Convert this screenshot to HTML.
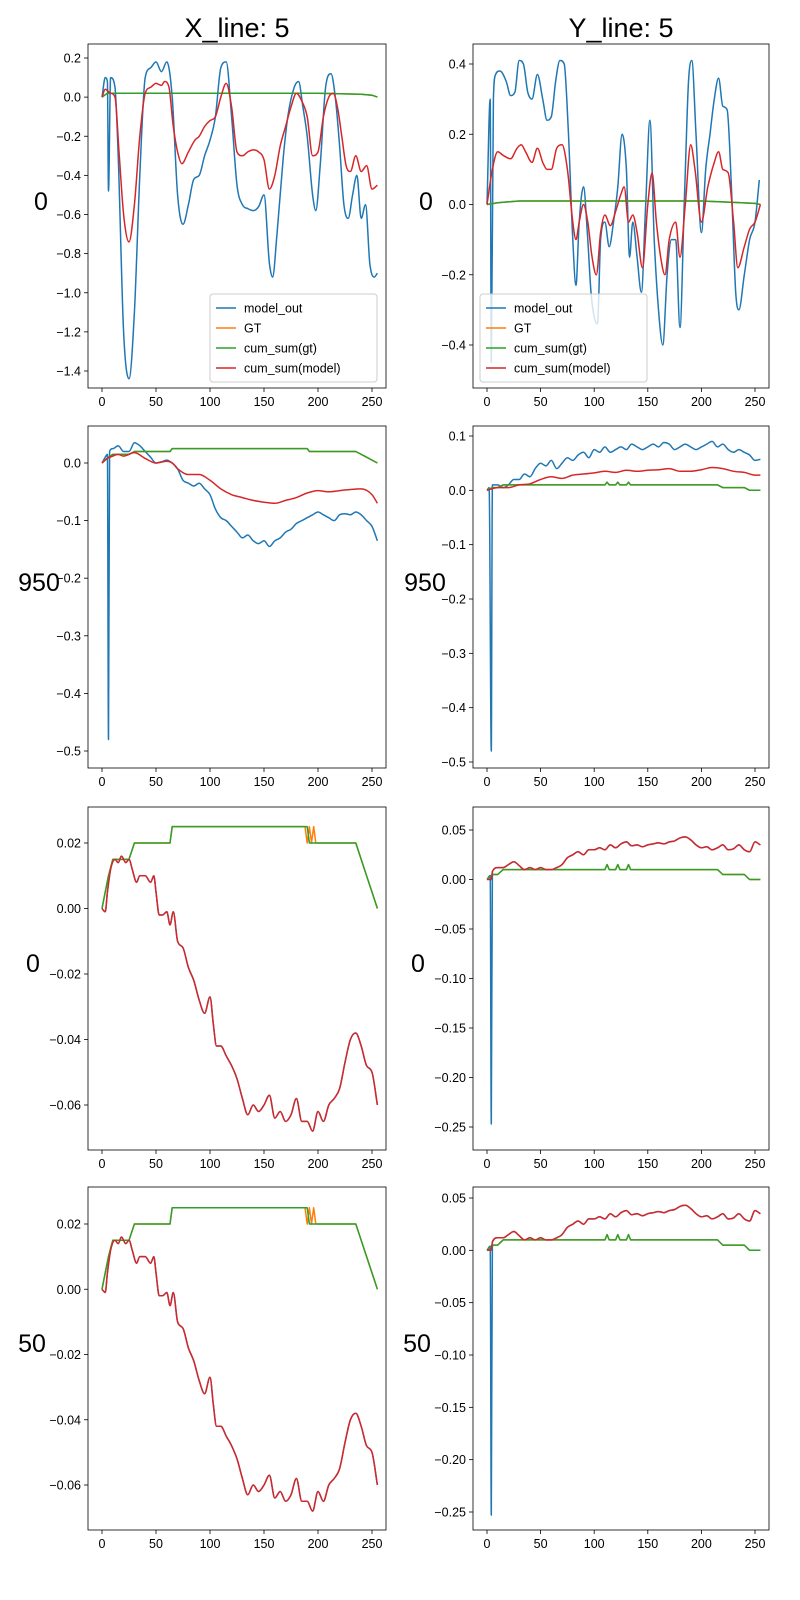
<!DOCTYPE html>
<html><head><meta charset="utf-8">
<style>
body{margin:0;background:#fff;}
svg{display:block;font-family:"Liberation Sans","DejaVu Sans",sans-serif;}
</style></head>
<body>
<svg id="fig" width="800" height="1600" viewBox="0 0 800 1600">
<text x="237" y="37" font-size="27" text-anchor="middle">X_line: 5</text>
<text x="621" y="37" font-size="27" text-anchor="middle">Y_line: 5</text>
<text x="41" y="210" font-size="25" text-anchor="middle">0</text>
<text x="426" y="210" font-size="25" text-anchor="middle">0</text>
<text x="39" y="591" font-size="25" text-anchor="middle">950</text>
<text x="425" y="591" font-size="25" text-anchor="middle">950</text>
<text x="33" y="972" font-size="25" text-anchor="middle">0</text>
<text x="418" y="972" font-size="25" text-anchor="middle">0</text>
<text x="32" y="1352" font-size="25" text-anchor="middle">50</text>
<text x="417" y="1352" font-size="25" text-anchor="middle">50</text>
</svg>
<script>
// ---- data ----
const xTicks = [0,50,100,150,200,250];
// Row1 left
const r1lBlueX = [0,3,5,6,8,12,15,20,25,30,35,40,45,50,55,60,65,70,75,80,85,90,95,100,105,110,115,120,125,130,135,140,145,150,155,158,162,168,172,178,182,186,190,195,198,202,207,212,216,220,224,228,232,236,240,244,248,252,255];
const r1lBlueY = [0,0.1,0.08,-0.48,0.1,0.05,-0.3,-1.2,-1.44,-1.1,-0.4,0.1,0.15,0.18,0.13,0.18,0,-0.5,-0.65,-0.55,-0.42,-0.4,-0.3,-0.22,-0.1,0.15,0.18,-0.1,-0.45,-0.55,-0.57,-0.58,-0.56,-0.5,-0.85,-0.92,-0.7,-0.3,-0.1,0.05,0.08,-0.05,-0.2,-0.5,-0.58,-0.35,0.05,0.12,0,-0.25,-0.55,-0.62,-0.5,-0.4,-0.62,-0.55,-0.85,-0.92,-0.9];
const r1lRedX = [0,3,8,12,16,20,25,30,35,40,45,50,55,58,62,66,70,74,80,86,90,95,100,105,110,115,120,125,130,135,140,145,150,155,160,165,170,175,180,185,190,195,200,205,210,214,218,222,226,230,235,240,245,250,255];
const r1lRedY = [0,0.04,0.02,0,-0.3,-0.6,-0.74,-0.55,-0.2,0.02,0.05,0.07,0.06,0.08,0.05,-0.15,-0.28,-0.34,-0.28,-0.22,-0.2,-0.15,-0.12,-0.1,0,0.07,-0.05,-0.28,-0.3,-0.28,-0.27,-0.28,-0.32,-0.47,-0.4,-0.25,-0.15,-0.05,0.02,-0.02,-0.1,-0.3,-0.28,-0.1,0,0.02,-0.05,-0.2,-0.35,-0.38,-0.3,-0.38,-0.35,-0.47,-0.45];
const r1lGreenX = [0,5,30,200,240,250,255];
const r1lGreenY = [0,0.02,0.02,0.02,0.015,0.01,0];
// Row1 right
const r1rBlueX = [0,3,4,6,8,12,18,22,26,30,34,38,42,47,52,56,60,64,68,72,76,80,83,86,90,94,97,100,103,106,110,114,118,122,126,130,133,136,140,144,148,152,156,160,164,168,172,176,180,184,188,191,195,200,204,208,212,216,220,224,228,232,235,240,245,250,254];
const r1rBlueY = [0,0.3,-0.45,0.3,0.37,0.38,0.35,0.31,0.32,0.41,0.4,0.32,0.3,0.37,0.3,0.24,0.25,0.35,0.41,0.4,0.2,-0.1,-0.23,-0.05,0.05,-0.1,-0.25,-0.32,-0.34,-0.1,-0.05,-0.12,-0.05,0.05,0.2,0.1,-0.15,-0.05,-0.15,-0.25,0,0.24,-0.1,-0.3,-0.4,-0.2,-0.1,-0.1,-0.35,0,0.35,0.41,0.2,-0.08,0.1,0.2,0.3,0.36,0.28,0.27,0.05,-0.25,-0.3,-0.2,-0.1,-0.05,0.07];
const r1rRedX = [0,5,10,15,22,28,32,36,42,47,52,56,60,65,70,75,80,83,86,90,94,98,102,106,110,115,120,125,128,132,136,140,145,150,154,158,162,166,170,176,180,185,190,194,200,206,212,216,220,225,230,234,240,245,250,255];
const r1rRedY = [0,0.1,0.15,0.14,0.13,0.16,0.17,0.15,0.12,0.16,0.12,0.1,0.1,0.16,0.17,0.1,-0.05,-0.1,-0.05,0,-0.05,-0.15,-0.2,-0.08,-0.03,-0.06,-0.02,0.03,0.05,-0.05,-0.03,-0.08,-0.18,0,0.09,-0.05,-0.15,-0.2,-0.1,-0.05,-0.15,0,0.17,0.1,-0.05,0.05,0.12,0.15,0.1,0.09,-0.05,-0.18,-0.12,-0.07,-0.05,0];
const r1rGreenX = [0,10,30,200,230,250,255];
const r1rGreenY = [0,0.005,0.01,0.01,0.006,0.003,0];
// Step-shaped GT (left col rows 2-4)
const stepX = [0,3,6,10,14,25,30,63,65,190,192,235,240,245,250,255];
const stepY = [0,0.005,0.01,0.015,0.015,0.015,0.02,0.02,0.025,0.025,0.02,0.02,0.015,0.01,0.005,0];
const stepOrX = [0,3,6,10,14,25,30,63,65,188,190,192,194,196,198,235,240,245,250,255];
const stepOrY = [0,0.005,0.01,0.015,0.015,0.015,0.02,0.02,0.025,0.025,0.02,0.025,0.02,0.025,0.02,0.02,0.015,0.01,0.005,0];
// GT for right col rows 2-4
const gtRX = [0,5,10,15,110,112,114,120,122,124,130,132,134,140,215,220,240,245,255];
const gtRY = [0,0.005,0.005,0.01,0.01,0.015,0.01,0.01,0.015,0.01,0.01,0.015,0.01,0.01,0.01,0.005,0.005,0,0];
// Row2 left
const r2lBlueX = [0,3,5,6,7,10,15,20,25,30,35,40,45,50,55,60,65,70,75,80,85,90,95,100,105,110,115,120,125,130,135,140,145,150,155,160,165,170,175,180,185,190,195,200,205,210,215,220,225,230,235,240,245,250,255];
const r2lBlueY = [0,0.01,0.015,-0.48,0.02,0.025,0.03,0.02,0.02,0.035,0.03,0.02,0.01,0,0.002,0.005,0,-0.01,-0.03,-0.035,-0.04,-0.035,-0.045,-0.055,-0.08,-0.095,-0.1,-0.11,-0.12,-0.13,-0.125,-0.135,-0.14,-0.135,-0.145,-0.135,-0.13,-0.12,-0.115,-0.105,-0.1,-0.095,-0.09,-0.085,-0.09,-0.095,-0.1,-0.09,-0.088,-0.09,-0.085,-0.09,-0.1,-0.11,-0.135];
const r2lRedX = [0,5,10,15,20,30,40,50,60,65,70,80,90,100,110,120,130,140,150,160,170,180,190,200,210,220,230,240,250,255];
const r2lRedY = [0,0.008,0.012,0.015,0.012,0.018,0.008,0,0.003,0,-0.01,-0.02,-0.02,-0.03,-0.045,-0.055,-0.06,-0.065,-0.068,-0.07,-0.065,-0.06,-0.052,-0.048,-0.05,-0.048,-0.046,-0.045,-0.055,-0.07];
// Row2 right
const r2rBlueX = [0,2,4,5,10,15,20,25,30,35,40,45,50,55,60,65,70,75,80,85,90,95,100,105,110,115,120,125,130,135,140,145,150,155,160,165,170,175,180,185,190,195,200,205,210,215,220,225,230,235,240,245,250,255];
const r2rBlueY = [0,0.005,-0.48,0.01,0.01,0.005,0.01,0.02,0.02,0.03,0.025,0.04,0.05,0.045,0.055,0.04,0.05,0.06,0.055,0.065,0.07,0.06,0.075,0.07,0.08,0.07,0.075,0.08,0.075,0.085,0.08,0.075,0.08,0.085,0.08,0.088,0.085,0.075,0.08,0.085,0.08,0.075,0.08,0.085,0.09,0.08,0.085,0.075,0.07,0.075,0.07,0.065,0.055,0.057];
const r2rRedX = [0,10,20,30,40,50,60,70,80,90,100,110,120,130,140,150,160,170,180,190,200,210,220,230,240,250,255];
const r2rRedY = [0,0.005,0.005,0.01,0.012,0.02,0.025,0.022,0.028,0.03,0.032,0.035,0.033,0.037,0.035,0.037,0.038,0.04,0.035,0.035,0.038,0.042,0.04,0.035,0.033,0.028,0.028];
// Row3/4 left
const r3lX = [0,3,5,8,12,15,18,22,25,28,32,35,40,45,48,50,53,56,60,63,66,70,75,80,85,90,95,100,103,106,110,115,120,125,130,135,140,145,150,155,160,165,170,175,180,185,190,195,200,205,210,215,220,225,230,235,240,245,250,255];
const r3lY = [0,-0.001,0.005,0.012,0.015,0.014,0.016,0.014,0.015,0.012,0.008,0.01,0.01,0.008,0.01,0.005,-0.002,-0.002,-0.001,-0.005,-0.001,-0.01,-0.012,-0.018,-0.022,-0.028,-0.032,-0.027,-0.035,-0.042,-0.042,-0.045,-0.048,-0.052,-0.058,-0.063,-0.06,-0.062,-0.06,-0.057,-0.064,-0.062,-0.065,-0.063,-0.058,-0.065,-0.065,-0.068,-0.062,-0.065,-0.06,-0.058,-0.055,-0.047,-0.04,-0.038,-0.042,-0.048,-0.05,-0.06];
// Row3/4 right
const r3rX = [0,4,5,10,15,20,25,30,35,40,45,50,55,60,65,70,75,80,85,90,95,100,105,110,115,120,125,130,135,140,145,150,155,160,165,170,175,180,185,190,195,200,205,210,215,220,225,230,235,240,245,250,255];
const r3rY = [0,0,0.008,0.012,0.012,0.015,0.018,0.014,0.01,0.012,0.01,0.012,0.01,0.01,0.012,0.015,0.022,0.025,0.028,0.025,0.03,0.03,0.032,0.03,0.035,0.032,0.036,0.038,0.034,0.035,0.033,0.035,0.036,0.037,0.036,0.038,0.039,0.042,0.043,0.04,0.035,0.032,0.033,0.03,0.032,0.035,0.03,0.031,0.035,0.03,0.028,0.038,0.035];
const r3rBlueX = [0,3,4,5,10,15,20,25,30,35,40,45,50,55,60,65,70,75,80,85,90,95,100,105,110,115,120,125,130,135,140,145,150,155,160,165,170,175,180,185,190,195,200,205,210,215,220,225,230,235,240,245,250,255];
const r3rBlueY = [0,0.004,-0.247,0.008,0.012,0.012,0.015,0.018,0.014,0.01,0.012,0.01,0.012,0.01,0.01,0.012,0.015,0.022,0.025,0.028,0.025,0.03,0.03,0.032,0.03,0.035,0.032,0.036,0.038,0.034,0.035,0.033,0.035,0.036,0.037,0.036,0.038,0.039,0.042,0.043,0.04,0.035,0.032,0.033,0.03,0.032,0.035,0.03,0.031,0.035,0.03,0.028,0.038,0.035];
const r4rBlueY = [0,0.004,-0.253,0.008,0.012,0.012,0.015,0.018,0.014,0.01,0.012,0.01,0.012,0.01,0.01,0.012,0.015,0.022,0.025,0.028,0.025,0.03,0.03,0.032,0.03,0.035,0.032,0.036,0.038,0.034,0.035,0.033,0.035,0.036,0.037,0.036,0.038,0.039,0.042,0.043,0.04,0.035,0.032,0.033,0.03,0.032,0.035,0.03,0.031,0.035,0.03,0.028,0.038,0.035];
// y tick labels
const r1lTicks = [0.2,0,-0.2,-0.4,-0.6,-0.8,-1.0,-1.2,-1.4];
const r1rTicks = [0.4,0.2,0,-0.2,-0.4];
const r2lTicks = [0,-0.1,-0.2,-0.3,-0.4,-0.5];
const r2rTicks = [0.1,0,-0.1,-0.2,-0.3,-0.4,-0.5];
const r3lTicks = [0.02,0,-0.02,-0.04,-0.06];
const r3rTicks = [0.05,0,-0.05,-0.1,-0.15,-0.2,-0.25];
const r4rTicks = [0.05,0,-0.05,-0.1,-0.15,-0.2,-0.25];

const C = {blue:'#1f77b4',orange:'#ff7f0e',green:'#2ca02c',red:'#d62728'};
const NS = 'http://www.w3.org/2000/svg';
const svg = document.getElementById('fig');
function mk(tag, attrs, parent){const e=document.createElementNS(NS,tag);for(const k in attrs)e.setAttribute(k,attrs[k]);(parent||svg).appendChild(e);return e;}

// monotone cubic path through pixel points
function smoothPath(P){
  const n=P.length; if(n<3) return 'M'+P.map(p=>p.join(',')).join('L');
  const d=[],m=[];
  for(let i=0;i<n-1;i++){d.push((P[i+1][1]-P[i][1])/(P[i+1][0]-P[i][0]||1e-6));}
  m[0]=d[0]; m[n-1]=d[n-2];
  for(let i=1;i<n-1;i++){m[i]=(d[i-1]*d[i]<=0)?0:(d[i-1]+d[i])/2;}
  for(let i=0;i<n-1;i++){
    if(d[i]===0){m[i]=0;m[i+1]=0;continue;}
    const a=m[i]/d[i],b=m[i+1]/d[i],s=a*a+b*b;
    if(s>9){const t=3/Math.sqrt(s);m[i]=t*a*d[i];m[i+1]=t*b*d[i];}
  }
  let s='M'+P[0][0].toFixed(1)+','+P[0][1].toFixed(1);
  for(let i=0;i<n-1;i++){
    const h=(P[i+1][0]-P[i][0])/3;
    s+='C'+(P[i][0]+h).toFixed(1)+','+(P[i][1]+m[i]*h).toFixed(1)+' '+(P[i+1][0]-h).toFixed(1)+','+(P[i+1][1]-m[i+1]*h).toFixed(1)+' '+P[i+1][0].toFixed(1)+','+P[i+1][1].toFixed(1);
  }
  return s;
}

function plot(p){
  const g = mk('g',{});
  
  
  const [x0,y0,x1,y1] = p.box;
  const xs = v => x0 + 14 + (v/250)*(x1-x0-28);
  const ys = v => p.ya[1] + (v - p.ya[0]) * (p.yb[1]-p.ya[1])/(p.yb[0]-p.ya[0]);
  const clipId = 'c'+p.name;
  const cp = mk('clipPath',{id:clipId},g); mk('rect',{x:x0,y:y0,width:x1-x0,height:y1-y0},cp);
  const lines = mk('g',{'clip-path':'url(#'+clipId+')'},g);
  p.series.forEach(s=>{
    const P = s.x.map((v,i)=>[xs(v),ys(s.y[i])]);
    const dstr = s.step ? 'M'+P.map(q=>q[0].toFixed(1)+','+q[1].toFixed(1)).join('L') : smoothPath(P);
    const pl = mk('path',{d:dstr,fill:'none',stroke:s.c,'stroke-width':1.5,'stroke-linejoin':'round'},lines);
    
    
  });
  mk('rect',{x:x0,y:y0,width:x1-x0,height:y1-y0,fill:'none',stroke:'#000','stroke-width':0.8},g);
  xTicks.forEach(t=>{
    const X=xs(t);
    mk('line',{x1:X,x2:X,y1:y1,y2:y1+4,stroke:'#000','stroke-width':0.8},g);
    const tx=mk('text',{x:X,y:y1+18,'font-size':12.5,'text-anchor':'middle'},g);
    tx.textContent=t;
    
    
  });
  p.ticks.forEach(t=>{
    const Y=ys(t);
    mk('line',{x1:x0-4,x2:x0,y1:Y,y2:Y,stroke:'#000','stroke-width':0.8},g);
    const tx=mk('text',{x:x0-7,y:Y+4.5,'font-size':12.5,'text-anchor':'end'},g);
    tx.textContent=(t<0?'\u2212':'')+Math.abs(t).toFixed(p.dec);
    
    
  });
  if(p.legend){
    const [lx,ly]=p.legend;
    const lg=mk('g',{},g);
    
    
    mk('rect',{x:lx,y:ly,width:167,height:88,rx:3,fill:'#fff','fill-opacity':0.8,stroke:'#ccc'},lg);
    const items=[['model_out',C.blue],['GT',C.orange],['cum_sum(gt)',C.green],['cum_sum(model)',C.red]];
    items.forEach((it,i)=>{
      const yy=ly+14+i*20;
      mk('line',{x1:lx+6,x2:lx+26,y1:yy,y2:yy,stroke:it[1],'stroke-width':1.5},lg);
      const t=mk('text',{x:lx+34,y:yy+4.5,'font-size':12.5},lg);
      t.textContent=it[0];
      
      
    });
  }
}

const L=[88,386], R=[473,769];
plot({name:'plot-r1-x',box:[L[0],44,L[1],388],ya:[0.2,58],yb:[-1.4,371],ticks:r1lTicks,dec:1,legend:[210,294],
  series:[{n:'model-out',c:C.blue,x:r1lBlueX,y:r1lBlueY},{n:'gt',c:C.orange,x:r1lGreenX,y:r1lGreenY,step:1},{n:'cum-sum-gt',c:C.green,x:r1lGreenX,y:r1lGreenY,step:1},{n:'cum-sum-model',c:C.red,x:r1lRedX,y:r1lRedY}]});
plot({name:'plot-r1-y',box:[R[0],44,R[1],388],ya:[0.4,64],yb:[-0.4,345],ticks:r1rTicks,dec:1,legend:[480,294],
  series:[{n:'model-out',c:C.blue,x:r1rBlueX,y:r1rBlueY},{n:'gt',c:C.orange,x:r1rGreenX,y:r1rGreenY,step:1},{n:'cum-sum-gt',c:C.green,x:r1rGreenX,y:r1rGreenY,step:1},{n:'cum-sum-model',c:C.red,x:r1rRedX,y:r1rRedY}]});
plot({name:'plot-r2-x',box:[L[0],426,L[1],768],ya:[0,463],yb:[-0.5,751],ticks:r2lTicks,dec:1,
  series:[{n:'model-out',c:C.blue,x:r2lBlueX,y:r2lBlueY},{n:'gt',c:C.orange,x:stepX,y:stepY,step:1},{n:'cum-sum-gt',c:C.green,x:stepX,y:stepY,step:1},{n:'cum-sum-model',c:C.red,x:r2lRedX,y:r2lRedY}]});
plot({name:'plot-r2-y',box:[R[0],426,R[1],768],ya:[0.1,436],yb:[-0.5,762],ticks:r2rTicks,dec:1,
  series:[{n:'model-out',c:C.blue,x:r2rBlueX,y:r2rBlueY},{n:'gt',c:C.orange,x:gtRX,y:gtRY,step:1},{n:'cum-sum-gt',c:C.green,x:gtRX,y:gtRY,step:1},{n:'cum-sum-model',c:C.red,x:r2rRedX,y:r2rRedY}]});
plot({name:'plot-r3-x',box:[L[0],807,L[1],1150],ya:[0.02,843],yb:[-0.06,1105],ticks:r3lTicks,dec:2,
  series:[{n:'model-out',c:C.blue,x:r3lX,y:r3lY},{n:'gt',c:C.orange,x:stepOrX,y:stepOrY,step:1},{n:'cum-sum-gt',c:C.green,x:stepX,y:stepY,step:1},{n:'cum-sum-model',c:C.red,x:r3lX,y:r3lY}]});
plot({name:'plot-r3-y',box:[R[0],807,R[1],1150],ya:[0.05,830],yb:[-0.25,1127],ticks:r3rTicks,dec:2,
  series:[{n:'model-out',c:C.blue,x:r3rBlueX,y:r3rBlueY},{n:'gt',c:C.orange,x:gtRX,y:gtRY,step:1},{n:'cum-sum-gt',c:C.green,x:gtRX,y:gtRY,step:1},{n:'cum-sum-model',c:C.red,x:r3rX,y:r3rY}]});
plot({name:'plot-r4-x',box:[L[0],1187,L[1],1530],ya:[0.02,1224],yb:[-0.06,1485],ticks:r3lTicks,dec:2,
  series:[{n:'model-out',c:C.blue,x:r3lX,y:r3lY},{n:'gt',c:C.orange,x:stepOrX,y:stepOrY,step:1},{n:'cum-sum-gt',c:C.green,x:stepX,y:stepY,step:1},{n:'cum-sum-model',c:C.red,x:r3lX,y:r3lY}]});
plot({name:'plot-r4-y',box:[R[0],1187,R[1],1530],ya:[0.05,1198],yb:[-0.25,1512],ticks:r4rTicks,dec:2,
  series:[{n:'model-out',c:C.blue,x:r3rBlueX,y:r4rBlueY},{n:'gt',c:C.orange,x:gtRX,y:gtRY,step:1},{n:'cum-sum-gt',c:C.green,x:gtRX,y:gtRY,step:1},{n:'cum-sum-model',c:C.red,x:r3rX,y:r3rY}]});
</script>
</body></html>
